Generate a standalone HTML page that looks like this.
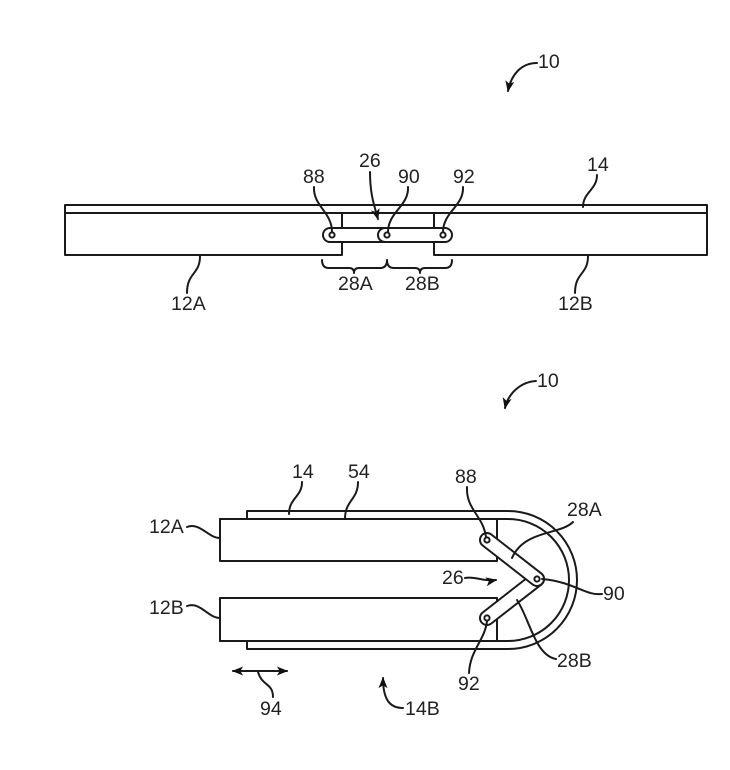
<!DOCTYPE html>
<html>
<head>
<meta charset="utf-8">
<style>
  html,body{margin:0;padding:0;background:#fff;}
  svg{display:block;}
  text{font-family:"Liberation Sans",Arial,sans-serif;font-size:19.5px;fill:#222;}
</style>
</head>
<body>
<svg width="730" height="770" viewBox="0 0 730 770" xmlns="http://www.w3.org/2000/svg">
  <defs>
    <marker id="ah" viewBox="0 0 10 8" refX="9" refY="4" markerWidth="12" markerHeight="9" markerUnits="userSpaceOnUse" orient="auto-start-reverse">
      <path d="M0,0 L10,4 L0,8 L2.5,4 Z" fill="#111"/>
    </marker>
  </defs>

  <g fill="none" stroke="#1a1a1a" stroke-width="2" stroke-linecap="round" stroke-linejoin="round">
    <!-- ================= TOP FIGURE ================= -->
    <path d="M537,63 C521,63 511,75 508,91" marker-end="url(#ah)"/>

    <rect x="65" y="205" width="642" height="50" fill="#fff"/>
    <line x1="65" y1="213" x2="707" y2="213"/>
    <line x1="343" y1="255" x2="433" y2="255" stroke="#fff" stroke-width="3.5"/>
    <line x1="342" y1="213" x2="342" y2="255"/>
    <line x1="434" y1="213" x2="434" y2="255"/>

    <rect x="323" y="228" width="73" height="14" rx="7" fill="#fff"/>
    <rect x="378" y="228" width="74" height="14" rx="7" fill="#fff"/>
    <circle cx="332" cy="235" r="2.6" fill="#fff"/>
    <circle cx="387" cy="235" r="2.6" fill="#fff"/>
    <circle cx="443" cy="235" r="2.6" fill="#fff"/>

    <path d="M322,260 Q322,268 329,268 L349,268 Q354,268 354,273 Q354,268 359,268 L380,268 Q387,268 387,260"/>
    <path d="M387,260 Q387,268 394,268 L415,268 Q420,268 420,273 Q420,268 425,268 L445,268 Q452,268 452,260"/>

    <path d="M314,187 C313,206 332,212 332,232"/>
    <path d="M408,187 C409,206 388,212 388,232"/>
    <path d="M463,187 C464,206 443,212 443,232"/>
    <path d="M370,172 C370,194 374,205 378,219" marker-end="url(#ah)"/>
    <path d="M597,175 C597,190 583,192 583,207"/>
    <path d="M200,256 C200,275 187,272 187,293"/>
    <path d="M588,256 C588,275 575,272 575,293"/>

    <!-- ================= BOTTOM FIGURE ================= -->
    <path d="M536,381 C520,382 508,394 505,408" marker-end="url(#ah)"/>

    <path d="M247,519 L247,511 L508,511 A69,69 0 0 1 508,649 L247,649 L247,641"/>
    <path d="M220,519 L508,519 A61,61 0 0 1 508,641 L220,641"/>
    <path d="M220,519 L220,561 L497,561 L497,519"/>
    <path d="M220,641 L220,598 L497,598 L497,641"/>

    <g transform="translate(487,618) rotate(-37.95)">
      <rect x="-7" y="-7" width="77.4" height="14" rx="7" fill="#fff"/>
    </g>
    <g transform="translate(487,540) rotate(37.95)">
      <rect x="-7" y="-7" width="77.4" height="14" rx="7" fill="#fff"/>
    </g>
    <circle cx="487" cy="540" r="2.6" fill="#fff"/>
    <circle cx="537" cy="579" r="2.6" fill="#fff"/>
    <circle cx="487" cy="618" r="2.6" fill="#fff"/>

    <path d="M302,482 C302,497 289,498 289,514"/>
    <path d="M358,482 C358,500 345,500 345,519"/>
    <path d="M187,527 C200,522 208,538 220,538"/>
    <path d="M187,606 C200,601 208,618 220,618"/>
    <path d="M233,671 L287,671" marker-start="url(#ah)" marker-end="url(#ah)"/>
    <path d="M258,672 C262,686 273,683 273,697"/>
    <path d="M403,708 C390,708 383,700 383,678" marker-end="url(#ah)"/>
    <path d="M467,487 C466,510 483,515 486,537"/>
    <path d="M573,522 C560,535 524,530 512,558"/>
    <path d="M465,578 C475,576 485,582 496,580" marker-end="url(#ah)"/>
    <path d="M602,594 C585,596 575,582 542,579"/>
    <path d="M556,659 C535,655 530,620 517,600"/>
    <path d="M469,673 C470,650 485,640 487,621"/>
  </g>

  <text x="538" y="68">10</text>
  <text x="303" y="183">88</text>
  <text x="359" y="167">26</text>
  <text x="398" y="183">90</text>
  <text x="453" y="183">92</text>
  <text x="587" y="171">14</text>
  <text x="338" y="290">28A</text>
  <text x="405" y="290">28B</text>
  <text x="171" y="310">12A</text>
  <text x="558" y="310">12B</text>

  <text x="537" y="387">10</text>
  <text x="292" y="478">14</text>
  <text x="348" y="478">54</text>
  <text x="149" y="533">12A</text>
  <text x="149" y="614">12B</text>
  <text x="260" y="715">94</text>
  <text x="405" y="715">14B</text>
  <text x="455" y="483">88</text>
  <text x="567" y="516">28A</text>
  <text x="442" y="584">26</text>
  <text x="603" y="600">90</text>
  <text x="557" y="667">28B</text>
  <text x="458" y="690">92</text>
</svg>
</body>
</html>
